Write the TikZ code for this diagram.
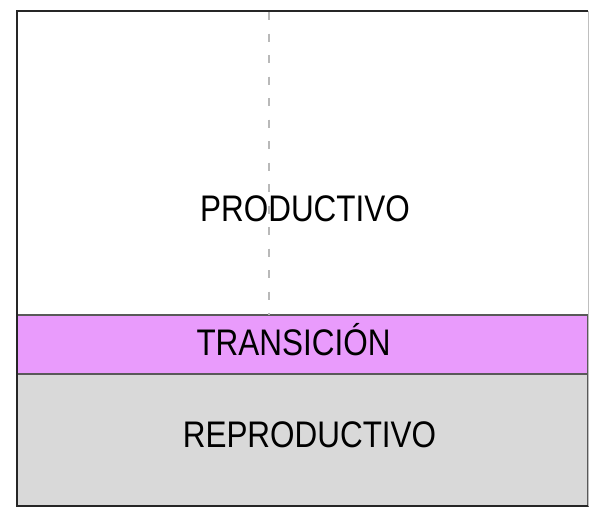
\documentclass[tikz,border=0pt]{standalone}
\usepackage{fontspec}
\setmainfont{Liberation Sans}[FakeStretch=0.85]
\definecolor{transpink}{HTML}{E99BFC}
\definecolor{repgray}{HTML}{D9D9D9}
\begin{document}
\begin{tikzpicture}[x=1pt,y=-1pt,
  label/.style={anchor=base,inner sep=0pt,font=\fontsize{37}{40}\selectfont},
  band/.style={draw=black!65,line width=1.2pt}]
\useasboundingbox (0,0) rectangle (589,509);
% bands
\fill[white] (17,11) rectangle (588,315);
\filldraw[band,fill=transpink] (17,315) rectangle (588,374);
\filldraw[band,fill=repgray] (17,374) rectangle (588,506);
% dashed divider
\coordinate (dtop) at (269,12);
\coordinate (dbot) at (269,315);
\draw[gray!55,line width=1.5pt,dash pattern=on 8pt off 13.5pt] (dtop) -- (dbot);
% outer frame
\draw[black!85,line width=2pt] (588,11) -- (17,11) -- (17,506) -- (588,506);
\draw[black!25,line width=1pt] (588,11) -- (588,506);
% labels
\node[label] (prod) at (305,221) {PRODUCTIVO};
\node[label] (trans) at (293.5,355) {TRANSICIÓN};
\node[label] (repro) at (309.5,447) {REPRODUCTIVO};
\end{tikzpicture}
\end{document}
